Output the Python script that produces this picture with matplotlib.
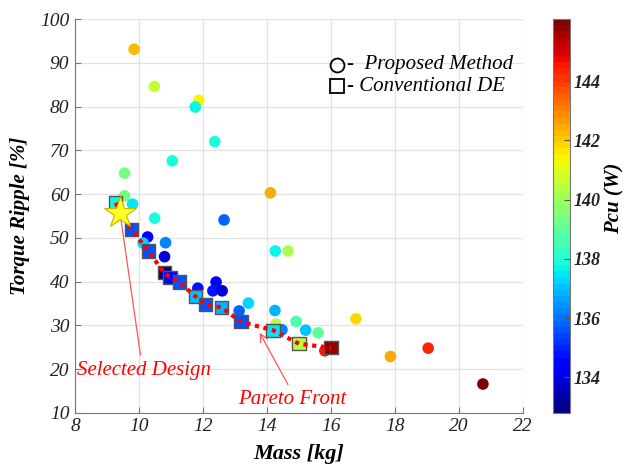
import matplotlib
matplotlib.use("Agg")
import matplotlib.pyplot as plt
import numpy as np

# proposed method (circles): mass [kg], torque ripple [%], Pcu [W]
prop_mass = [9.85, 10.48, 11.87, 11.76, 12.37, 11.04, 9.55, 9.55, 14.11, 9.80,
             10.49, 12.66, 10.27, 10.83, 10.13, 10.80, 12.41, 11.84, 12.31, 12.60,
             13.42, 13.13, 14.26, 14.66, 14.25, 14.28, 14.47, 14.91, 15.21, 15.60,
             15.81, 16.78, 17.86, 19.04, 20.75]
prop_ripple = [93.1, 84.6, 81.4, 79.9, 72.0, 67.6, 64.8, 59.6, 60.3, 57.7,
               54.5, 54.1, 50.2, 48.9, 48.8, 45.7, 39.9, 38.5, 37.9, 37.9,
               35.1, 33.3, 47.0, 47.0, 33.4, 30.3, 29.0, 30.9, 28.9, 28.3,
               24.2, 31.5, 22.9, 24.8, 16.6]
prop_pcu = [142.2, 140.6, 141.4, 137.7, 137.8, 137.8, 139.4, 139.4, 142.4, 137.4,
            137.8, 135.9, 134.3, 136.2, 137.2, 133.9, 134.5, 134.7, 134.7, 134.0,
            137.2, 135.9, 137.7, 140.1, 136.9, 140.3, 136.2, 138.8, 137.1, 138.9,
            144.5, 141.9, 142.4, 144.4, 146.0]

# conventional DE (squares) - pareto front
de_mass = [9.27, 9.77, 10.29, 10.79, 10.97, 11.26, 11.77, 12.07, 12.58, 13.19, 14.19, 15.00, 16.00]
de_ripple = [58.0, 51.9, 47.0, 42.0, 41.0, 39.9, 36.6, 34.8, 34.1, 30.8, 28.9, 25.8, 24.9]
de_pcu = [137.6, 135.7, 135.7, 133.0, 134.4, 135.7, 137.0, 135.7, 136.9, 135.7, 137.5, 140.3, 145.7]

sel_mass, sel_ripple = 9.41, 55.6

pcu_min, pcu_max = 132.8, 146.1
cbar_ticks = [134, 136, 138, 140, 142, 144]

plt.rcParams['font.family'] = ['Liberation Serif', 'DejaVu Serif']

fig = plt.figure(figsize=(6.3, 4.65), dpi=100)
ax = fig.add_axes([0.119, 0.112, 0.711, 0.847])
cax = fig.add_axes([0.878, 0.112, 0.026, 0.847])

cmap = plt.get_cmap('jet', 64)

sc = ax.scatter(prop_mass, prop_ripple, c=prop_pcu, cmap=cmap, vmin=pcu_min, vmax=pcu_max,
                s=70, marker='o', edgecolors='none', zorder=3)
ax.scatter(de_mass, de_ripple, c=de_pcu, cmap=cmap, vmin=pcu_min, vmax=pcu_max,
           s=90, marker='s', edgecolors='#555555', linewidths=1.0, zorder=4)
ax.plot(de_mass, de_ripple, color='red', linestyle=(0, (1, 1.1)), lw=3, zorder=5)
ax.plot(sel_mass, sel_ripple, marker='*', markersize=24, color='#ffff22',
        markeredgecolor='#c8b400', markeredgewidth=0.8, zorder=6)

ax.set_xlim(8, 22)
ax.set_ylim(10, 100)
ax.set_xticks(np.arange(8, 23, 2))
ax.set_yticks(np.arange(10, 101, 10))
ax.grid(True, color='#e2e2e2', lw=0.9)
ax.set_axisbelow(True)
for s in ['top', 'right']:
    ax.spines[s].set_visible(False)
for s in ['left', 'bottom']:
    ax.spines[s].set_color('#777777')
ax.tick_params(direction='in', length=4, color='#777777', labelsize=14, pad=4)
for lab in ax.get_xticklabels() + ax.get_yticklabels():
    lab.set_fontstyle('italic')
    lab.set_color('#222222')

ax.set_xlabel('Mass [kg]', fontsize=16, fontweight='bold', fontstyle='italic', labelpad=6)
ax.set_ylabel('Torque Ripple [%]', fontsize=15, fontweight='bold', fontstyle='italic', labelpad=7)

# legend drawn as text
ax.plot(0.586, 0.884, marker='o', markersize=10, mfc='none', mec='black', mew=1.3,
        transform=ax.transAxes, clip_on=False)
ax.text(0.607, 0.884, '-  Proposed Method', transform=ax.transAxes, fontsize=15,
        fontstyle='italic', va='center', ha='left')
ax.plot(0.586, 0.829, marker='s', markersize=10, mfc='none', mec='black', mew=1.3,
        transform=ax.transAxes, clip_on=False)
ax.text(0.607, 0.829, '- Conventional DE', transform=ax.transAxes, fontsize=15,
        fontstyle='italic', va='center', ha='left')

# annotations
ax.annotate('', xy=(sel_mass, sel_ripple), xytext=(10.06, 22.6),
            arrowprops=dict(arrowstyle='-', color='#ff5555', lw=0.9))
ax.text(10.16, 19.6, 'Selected Design', color='red', fontsize=15, fontstyle='italic',
        ha='center', va='center', clip_on=False)
ax.annotate('', xy=(13.73, 28.9), xytext=(14.70, 15.9),
            arrowprops=dict(arrowstyle='->', color='#ff5555', lw=0.9, mutation_scale=14))
ax.text(14.78, 13.0, 'Pareto Front', color='red', fontsize=15, fontstyle='italic',
        ha='center', va='center')

cb = fig.colorbar(sc, cax=cax, ticks=cbar_ticks)
cb.outline.set_edgecolor('#777777')
cax.tick_params(direction='in', length=4, color='#555555', labelsize=13, pad=3)
for lab in cax.get_yticklabels():
    lab.set_fontstyle('italic')
    lab.set_fontweight('bold')
    lab.set_color('#222222')
fig.text(614 / 630, 1 - 198 / 465, 'Pcu (W)', rotation=90, fontsize=15, fontweight='bold',
         fontstyle='italic', ha='center', va='center')

fig.savefig('out.png', dpi=100)
